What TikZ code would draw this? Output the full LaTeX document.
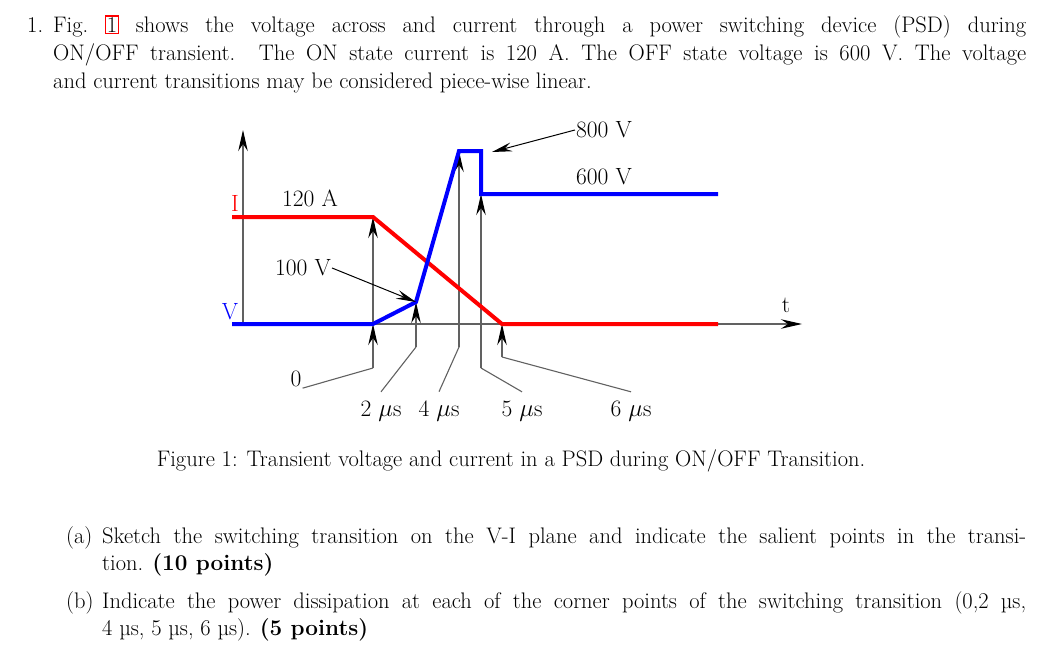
\documentclass[tikz,border=0pt]{standalone}
\usepackage{amsmath, amssymb}
\usepackage{tikz}
\usetikzlibrary{arrows.meta}

\newcommand{\linkbox}[1]{{\fboxsep=0.5pt\fboxrule=1.2pt\color{red}\fbox{\color{black}#1}}}

\begin{document}
\begin{tikzpicture}[x=1pt, y=-1pt,
    txt/.style={anchor=base west, inner sep=0pt, font=\fontsize{22.5}{27}\selectfont},
    lbl/.style={inner sep=1pt, font=\fontsize{23.5}{28}\selectfont},
    tlbl/.style={lbl, outer sep=8pt},
    guide/.style={line width=1.1pt, color=black!62},
    tip/.style={-{Stealth[black, length=21pt, width=9.5pt, inset=7pt]}},
    wave/.style={line width=4pt, line join=miter}]%{{{

    \useasboundingbox (0,0) rectangle (1062,648);

    \node (num) [txt] at (27,32) {1.};
    \node (par1) [txt] at (53,32) {\makebox[973pt][s]{Fig.\ \linkbox{1} shows the voltage across and current through a power switching device (PSD) during}};
    \node (par2) [txt] at (53,60) {\makebox[973pt][s]{ON/OFF transient. The ON state current is 120 A. The OFF state voltage is 600 V. The voltage}};
    \node (par3) [txt] at (53,88) {and current transitions may be considered piece-wise linear.};


    \coordinate (org) at (243,324);
    \coordinate (ytop) at (243,130);
    \coordinate (xend) at (802,324);
    \draw [guide, tip] (org) -- (ytop);
    \draw [guide, tip] (org) -- (xend);

    \coordinate (i0) at (232,217);
    \coordinate (i1) at (373,217);
    \coordinate (i2) at (502,324);
    \coordinate (i3) at (718,324);
    \coordinate (v0) at (232,324);
    \coordinate (v1) at (373,324);
    \coordinate (v2) at (416,302);
    \coordinate (v3) at (459,151);
    \coordinate (v4) at (481,151);
    \coordinate (v5) at (481,194);
    \coordinate (v6) at (718,194);

    \coordinate (f0) at (373,368);
    \coordinate (f2) at (416,347);
    \coordinate (f4) at (459,347);
    \coordinate (f5) at (481,368);
    \coordinate (f6) at (502,357);
    \draw [guide, tip] (f0) -- (v1);
    \draw [guide, tip] (v1) -- (i1);
    \draw [guide, tip] (f2) -- (v2);
    \draw [guide, tip] (f4) -- (v3);
    \draw [guide, tip] (f5) -- (v5);
    \draw [guide, tip] (f6) -- (i2);

    \draw [wave, color=red] (i0) -- (i1) -- (i2) -- (i3);
    \draw [wave, color=blue] (v0) -- (v1) -- (v2) -- (v3) -- (v4) -- (v5) -- (v6);

    \node (lI) [lbl, color=red] at (235,203) {I};
    \node (lV) [lbl, color=blue] at (230,312) {V};
    \node (lt) [lbl] at (786,305) {t};
    \node (l120) [lbl] at (310,198) {120 A};
    \node (l600) [lbl] at (604,177) {600 V};
    \node (l100) [lbl] at (303,268) {100 V};
    \node (l800) [lbl] at (604,130) {800 V};
    \coordinate (p800) at (492,152);
    \draw [line width=1pt, -{Stealth[length=20pt, width=9pt, inset=7pt]}] (l100.east) -- (v2);
    \draw [line width=1pt, -{Stealth[length=20pt, width=9pt, inset=7pt]}] (l800.west) -- (p800);


    \node (l0) [lbl] at (296,379) {0};
    \node (l2) [tlbl] at (381,411) {2 $\mu$s};
    \node (l4) [tlbl] at (439,411) {4 $\mu$s};
    \node (l5) [tlbl] at (522,411) {5 $\mu$s};
    \node (l6) [tlbl] at (631,411) {6 $\mu$s};
    \draw [guide] (f0) -- (l0.south east);
    \draw [guide] (f2) -- (l2.north);
    \draw [guide] (f4) -- (l4.north);
    \draw [guide] (f5) -- (l5.north);
    \draw [guide] (f6) -- (l6.north);

    \node (cap) [txt, anchor=base] at (511,466) {Figure 1: Transient voltage and current in a PSD during ON/OFF Transition.};


    \node (ia) [txt] at (66,543) {(a)};
    \node (qa1) [txt] at (102,543) {\makebox[924pt][s]{Sketch the switching transition on the V-I plane and indicate the salient points in the transi-}};
    \node (qa2) [txt] at (102,570) {tion. \textbf{(10 points)}};
    \node (ib) [txt] at (66,608) {(b)};
    \node (qb1) [txt] at (102,608) {\makebox[924pt][s]{Indicate the power dissipation at each of the corner points of the switching transition (0,2 µs,}};
    \node (qb2) [txt] at (102,635) {4 µs, 5 µs, 6 µs). \textbf{(5 points)}};
  \end{tikzpicture}
\end{document}
